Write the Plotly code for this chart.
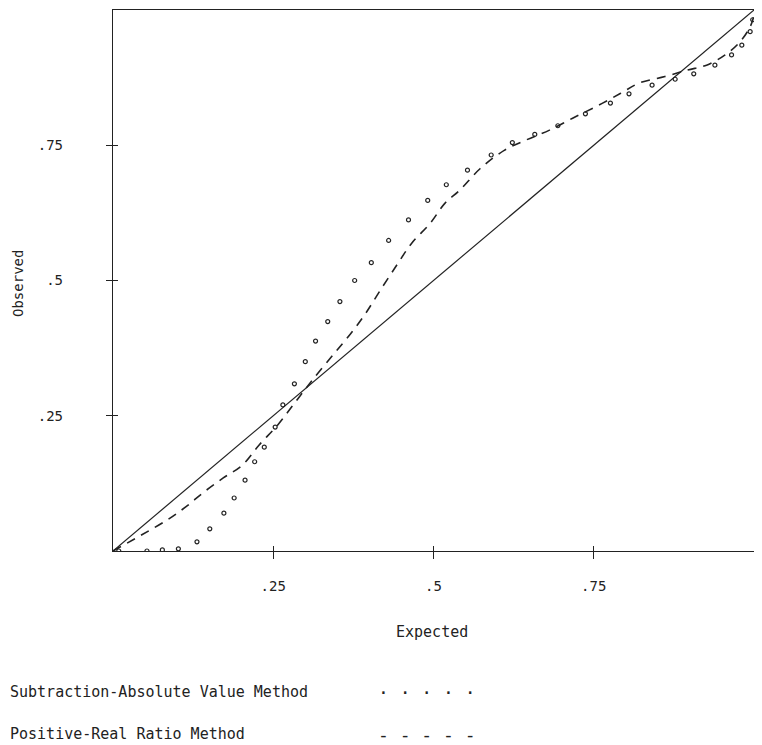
import plotly.graph_objects as go

# Diagonal reference (expected == observed)
ref_x = [0, 1]
ref_y = [0, 1]

# Subtraction-Absolute Value Method (small open circles)
sav_x = [0.009, 0.053, 0.077, 0.102, 0.131, 0.151, 0.173, 0.189, 0.206, 0.221, 0.236, 0.253,
         0.265, 0.283, 0.300, 0.316, 0.335, 0.354, 0.377, 0.403, 0.430, 0.461, 0.491, 0.520,
         0.553, 0.590, 0.623, 0.658, 0.694, 0.737, 0.776, 0.805, 0.841, 0.877, 0.906, 0.939,
         0.965, 0.981, 0.994, 0.998]
sav_y = [0.000, 0.000, 0.002, 0.004, 0.017, 0.041, 0.070, 0.098, 0.131, 0.165, 0.192, 0.229,
         0.270, 0.309, 0.350, 0.388, 0.424, 0.461, 0.500, 0.533, 0.574, 0.612, 0.648, 0.677,
         0.704, 0.732, 0.755, 0.770, 0.786, 0.808, 0.828, 0.845, 0.861, 0.872, 0.882, 0.898,
         0.917, 0.935, 0.960, 0.982]

# Positive-Real Ratio Method (dashed)
prr_x = [0.0, 0.045, 0.084, 0.114, 0.143, 0.172, 0.202, 0.228, 0.257, 0.283, 0.309, 0.345,
         0.371, 0.394, 0.417, 0.443, 0.466, 0.495, 0.518, 0.541, 0.573, 0.611, 0.645, 0.681,
         0.717, 0.756, 0.792, 0.821, 0.861, 0.896, 0.926, 0.955, 0.978, 0.994, 1.0]
prr_y = [0.0, 0.030, 0.057, 0.082, 0.110, 0.135, 0.159, 0.196, 0.233, 0.273, 0.313, 0.365,
         0.402, 0.439, 0.482, 0.529, 0.569, 0.606, 0.643, 0.667, 0.707, 0.741, 0.760, 0.778,
         0.800, 0.823, 0.846, 0.865, 0.877, 0.889, 0.898, 0.917, 0.941, 0.969, 0.99]

x_ticks = [0.25, 0.5, 0.75]
x_tick_labels = [".25", ".5", ".75"]
y_ticks = [0.25, 0.5, 0.75]
y_tick_labels = [".25", ".5", ".75"]

FONT = "DejaVu Sans Mono"
INK = "#222222"

# page has an 8px body margin; figure is placed at (8, 8)
OFF = 8
W, H = 746, 737
L, R, T, B = 105, 0, 2, 194

fig = go.Figure()
fig.add_trace(go.Scatter(x=ref_x, y=ref_y, mode="lines",
                         line=dict(color=INK, width=1.2), showlegend=False))
fig.add_trace(go.Scatter(x=prr_x, y=prr_y, mode="lines", line_shape="spline",
                         line=dict(color=INK, width=1.6, dash="9px,7px"), showlegend=False))
fig.add_trace(go.Scatter(x=sav_x, y=sav_y, mode="markers",
                         marker=dict(symbol="circle-open", size=4, color=INK,
                                     line=dict(width=1.2, color=INK)),
                         showlegend=False))
# invisible trace to anchor overlay axes (inside tick halves)
fig.add_trace(go.Scatter(x=[0], y=[0], xaxis="x2", yaxis="y2", mode="markers",
                         marker=dict(opacity=0), showlegend=False, hoverinfo="skip"))

fig.update_layout(
    width=W, height=H,
    margin=dict(l=L, r=R, t=T, b=B),
    paper_bgcolor="white", plot_bgcolor="white",
    font=dict(family=FONT, size=14, color=INK),
    showlegend=False,
    xaxis=dict(range=[0, 1], showgrid=False, zeroline=False,
               showline=True, linecolor=INK, linewidth=1.3, mirror=True,
               ticks="outside", ticklen=7, tickwidth=1.2, tickcolor=INK,
               tickvals=x_ticks, ticktext=x_tick_labels, ticklabelstandoff=15,
               tickfont=dict(family=FONT, size=14)),
    yaxis=dict(range=[0, 1], showgrid=False, zeroline=False,
               showline=True, linecolor=INK, linewidth=1.3,
               ticks="outside", ticklen=6, tickwidth=1.2, tickcolor=INK,
               tickvals=y_ticks, ticktext=y_tick_labels, ticklabelstandoff=40,
               tickfont=dict(family=FONT, size=14)),
    xaxis2=dict(range=[0, 1], overlaying="x", anchor="y2", side="bottom",
                showgrid=False, zeroline=False, showline=False,
                ticks="inside", ticklen=5, tickwidth=1.2, tickcolor=INK,
                tickvals=x_ticks, showticklabels=False),
    yaxis2=dict(range=[0, 1], overlaying="y", anchor="x2", side="left",
                showgrid=False, zeroline=False, showline=False,
                ticks="inside", ticklen=5, tickwidth=1.2, tickcolor=INK,
                tickvals=y_ticks, showticklabels=False),
)

pw = W - L - R
ph = H - T - B


def px_to_paper(px, py):
    fx = max(px - OFF, 0)
    fy = py - OFF
    return (fx - L) / pw, (H - B - fy) / ph


annotations = [
    dict(text="Expected", x=432, y=632, xanchor="center", size=15),
    dict(text="Observed", x=18, y=283, xanchor="center", textangle=-90, size=14),
    dict(text="Subtraction-Absolute Value Method", x=0, y=692, xanchor="left", size=15),
    dict(text=". . . . .", x=376, y=688, xanchor="left", size=18),
    dict(text="Positive-Real Ratio Method", x=0, y=734, xanchor="left", size=15),
    dict(text="- - - - -", x=376, y=734, xanchor="left", size=18),
]
for a in annotations:
    ax, ay = px_to_paper(a["x"], a["y"])
    fig.add_annotation(
        text=a["text"], xref="paper", yref="paper", x=ax, y=ay,
        showarrow=False, font=dict(family=FONT, size=a["size"], color=INK),
        textangle=a.get("textangle", 0),
        xanchor=a["xanchor"], yanchor="middle",
    )

fig.write_html("out.html")
